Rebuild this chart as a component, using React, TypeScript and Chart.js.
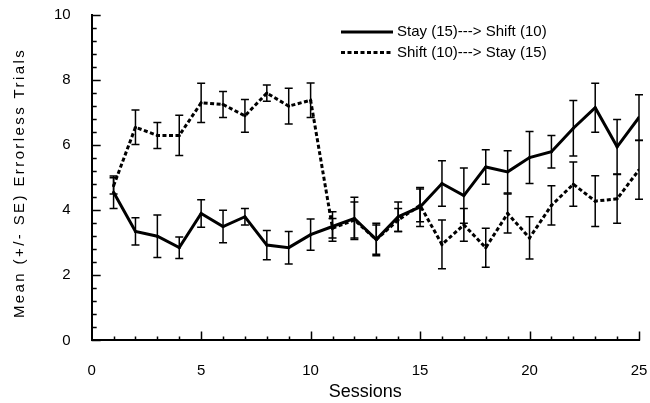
import React, { useEffect, useRef } from "react";
import { Chart, registerables } from "chart.js";

Chart.register(...registerables);

// ---- data ----
const sessions = [1, 2, 3, 4, 5, 6, 7, 8, 9, 10, 11, 12, 13, 14, 15, 16, 17, 18, 19, 20, 21, 22, 23, 24, 25];
const stayShiftMeans = [4.55, 3.35, 3.2, 2.85, 3.9, 3.5, 3.8, 2.93, 2.85, 3.25, 3.5, 3.75, 3.1, 3.8, 4.1, 4.82, 4.45, 5.33, 5.18, 5.62, 5.8, 6.52, 7.15, 5.95, 6.85];
const stayShiftSE = [0.5, 0.42, 0.65, 0.33, 0.42, 0.5, 0.25, 0.45, 0.5, 0.48, 0.45, 0.65, 0.5, 0.45, 0.6, 0.7, 0.85, 0.53, 0.65, 0.8, 0.5, 0.85, 0.75, 0.84, 0.7];
const shiftStayMeans = [4.75, 6.55, 6.3, 6.3, 7.3, 7.25, 6.9, 7.6, 7.2, 7.38, 3.45, 3.7, 3.1, 3.7, 4.15, 2.95, 3.55, 2.85, 3.9, 3.15, 4.15, 4.8, 4.28, 4.35, 5.24];
const shiftStaySE = [0.25, 0.53, 0.4, 0.62, 0.6, 0.4, 0.5, 0.25, 0.55, 0.53, 0.3, 0.55, 0.45, 0.35, 0.5, 0.75, 0.5, 0.6, 0.6, 0.65, 0.6, 0.68, 0.78, 0.75, 0.9];
const seriesLabels = ["Stay (15)---> Shift (10)", "Shift (10)---> Stay (15)"];
const yTitle = "Mean (+/- SE) Errorless Trials";
const xTitle = "Sessions";
const yMin = 0;
const yMax = 10;
const yStep = 2;
const yMinorStep = 0.4;
const xMin = 0;
const xMax = 25;
const xStep = 5;
const xMinorStep = 1;

const FONT = "'Liberation Sans', Arial, Helvetica, sans-serif";
const errorSets = [stayShiftSE, shiftStaySE];
const dashPattern = [4, 2.5];

const errorBarPlugin = {
  id: "errorBars",
  afterDatasetsDraw(chart: any) {
    const ctx = chart.ctx;
    const ys = chart.scales.y;
    ctx.save();
    ctx.strokeStyle = "#000";
    ctx.lineWidth = 1.5;
    chart.data.datasets.forEach((ds: any, i: number) => {
      const meta = chart.getDatasetMeta(i);
      const se = errorSets[i];
      meta.data.forEach((pt: any, j: number) => {
        const v = ds.data[j].y;
        const top = ys.getPixelForValue(v + se[j]);
        const bot = ys.getPixelForValue(v - se[j]);
        const x = pt.x;
        ctx.beginPath();
        ctx.moveTo(x, top);
        ctx.lineTo(x, bot);
        ctx.moveTo(x - 4, top);
        ctx.lineTo(x + 4, top);
        ctx.moveTo(x - 4, bot);
        ctx.lineTo(x + 4, bot);
        ctx.stroke();
      });
    });
    ctx.restore();
  },
};

const innerTicksPlugin = {
  id: "innerTicks",
  afterDraw(chart: any) {
    const ctx = chart.ctx;
    const { left, bottom } = chart.chartArea;
    const ys = chart.scales.y;
    const xs = chart.scales.x;
    ctx.save();
    ctx.strokeStyle = "#000";
    ctx.lineWidth = 1.5;
    ctx.beginPath();
    const ny = Math.round((yMax - yMin) / yMinorStep);
    for (let k = 0; k <= ny; k++) {
      const v = yMin + k * yMinorStep;
      const major = Math.abs(v / yStep - Math.round(v / yStep)) < 1e-6;
      const py = Math.round(ys.getPixelForValue(v)) + 0.5;
      ctx.moveTo(left, py);
      ctx.lineTo(left + (major ? 9 : 5), py);
    }
    const nx = Math.round((xMax - xMin) / xMinorStep);
    for (let k = 1; k <= nx; k++) {
      const v = xMin + k * xMinorStep;
      const major = v % xStep === 0;
      const px = Math.round(xs.getPixelForValue(v)) + 0.5;
      ctx.moveTo(px, bottom);
      ctx.lineTo(px, bottom - (major ? 9 : 4));
    }
    ctx.stroke();
    ctx.restore();
  },
};

const yTitlePlugin = {
  id: "yTitleSpaced",
  afterDraw(chart: any) {
    const ctx = chart.ctx;
    ctx.save();
    ctx.translate(20, 183);
    ctx.rotate(-Math.PI / 2);
    ctx.font = `15px ${FONT}`;
    try {
      (ctx as any).letterSpacing = "2.4px";
    } catch (e) {}
    ctx.fillStyle = "#000";
    ctx.textAlign = "center";
    ctx.textBaseline = "middle";
    ctx.fillText(yTitle, 0, 0);
    ctx.restore();
  },
};

const legendPlugin = {
  id: "customLegend",
  afterDraw(chart: any) {
    const ctx = chart.ctx;
    ctx.save();
    ctx.font = `15px ${FONT}`;
    ctx.fillStyle = "#000";
    ctx.strokeStyle = "#000";
    ctx.textBaseline = "middle";
    chart.data.datasets.forEach((ds: any, i: number) => {
      const yy = 32 + i * 20.5;
      ctx.lineWidth = 3;
      ctx.setLineDash(ds.borderDash || []);
      ctx.beginPath();
      ctx.moveTo(341, yy);
      ctx.lineTo(393, yy);
      ctx.stroke();
      ctx.setLineDash([]);
      ctx.fillText(ds.label, 397, yy);
    });
    ctx.restore();
  },
};

export default function App() {
  const ref = useRef<HTMLCanvasElement | null>(null);

  useEffect(() => {
    if (!ref.current) return;
    Chart.defaults.color = "#000";
    const chart = new Chart(ref.current, {
      type: "line",
      data: {
        datasets: [
          {
            label: seriesLabels[0],
            data: sessions.map((s, i) => ({ x: s, y: stayShiftMeans[i] })),
            borderColor: "#000",
            backgroundColor: "#000",
            borderWidth: 3,
            pointRadius: 1.5,
            pointBorderWidth: 0,
            tension: 0,
          },
          {
            label: seriesLabels[1],
            data: sessions.map((s, i) => ({ x: s, y: shiftStayMeans[i] })),
            borderColor: "#000",
            backgroundColor: "#000",
            borderWidth: 3,
            borderDash: dashPattern,
            pointRadius: 1.5,
            pointBorderWidth: 0,
            tension: 0,
          },
        ],
      },
      options: {
        responsive: false,
        animation: false,
        layout: { padding: { left: 54, top: 15, right: 11, bottom: 0 } },
        plugins: {
          legend: { display: false },
          tooltip: { enabled: false },
        },
        scales: {
          x: {
            type: "linear",
            min: xMin,
            max: xMax,
            ticks: {
              stepSize: xStep,
              padding: 0,
              color: "#000",
              font: { family: FONT, size: 15 },
            },
            grid: { display: true, drawOnChartArea: false, drawTicks: true, tickLength: 21, tickColor: "rgba(0,0,0,0)" },
            border: { display: true, color: "#000", width: 2 },
            title: {
              display: true,
              text: xTitle,
              color: "#000",
              font: { family: FONT, size: 18 },
              padding: { top: 2, bottom: 0 },
            },
          },
          y: {
            type: "linear",
            min: yMin,
            max: yMax,
            ticks: {
              stepSize: yStep,
              padding: 0,
              color: "#000",
              font: { family: FONT, size: 15 },
            },
            grid: { display: true, drawOnChartArea: false, drawTicks: true, tickLength: 21, tickColor: "rgba(0,0,0,0)" },
            border: { display: true, color: "#000", width: 2 },
          },
        },
      },
      plugins: [errorBarPlugin, innerTicksPlugin, yTitlePlugin, legendPlugin],
    } as any);
    return () => chart.destroy();
  }, []);

  return (
    <div style={{ position: "fixed", left: 0, top: 0, width: 650, height: 403, background: "#fff" }}>
      <canvas ref={ref} width={650} height={403} style={{ display: "block" }} />
    </div>
  );
}
